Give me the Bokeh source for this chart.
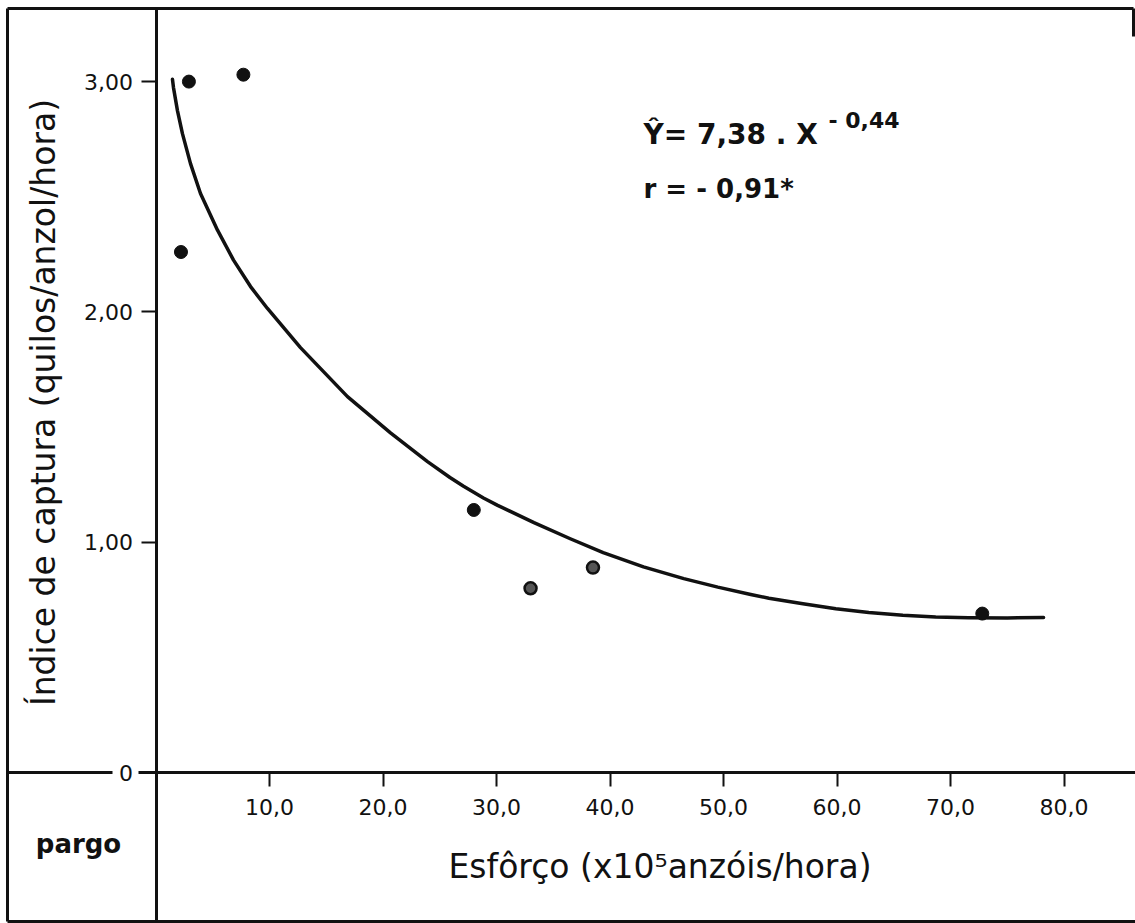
import math
from bokeh.plotting import figure
from bokeh.models import FixedTicker, Range1d
from bokeh.core.properties import value
from bokeh.embed import file_html
from bokeh.resources import INLINE

# ---------------- data ----------------
effort = [2.2, 2.9, 7.7, 28.0, 33.0, 38.5, 72.8]          # x 10^5 anzóis/hora
capture = [2.26, 3.00, 3.03, 1.14, 0.80, 0.89, 0.69]      # quilos/anzol/hora
speckled = [False, False, False, False, True, True, False]

curve_x = [1.45, 1.54, 1.89, 2.33, 3.04, 3.92, 5.42, 6.83, 8.33, 9.82,
           12.73, 16.87, 20.66, 23.92, 25.9, 27.1, 28.85, 30.1, 33.3, 36.5,
           39.4, 42.95, 46.5, 49.5, 52.4, 54.0, 57.0, 59.9, 62.8, 65.8,
           68.7, 71.6, 75.0, 78.2]
curve_y = [3.01, 2.974, 2.874, 2.774, 2.644, 2.514, 2.355, 2.225, 2.110, 2.015,
           1.845, 1.632, 1.475, 1.350, 1.281, 1.243, 1.192, 1.160, 1.085, 1.015,
           0.955, 0.893, 0.842, 0.805, 0.773, 0.757, 0.733, 0.711, 0.695, 0.683,
           0.675, 0.672, 0.671, 0.673]

x_ticks = [10, 20, 30, 40, 50, 60, 70, 80]
x_tick_labels = ["10,0", "20,0", "30,0", "40,0", "50,0", "60,0", "70,0", "80,0"]
y_ticks = [0, 1, 2, 3]
y_tick_labels = ["0", "1,00", "2,00", "3,00"]

species = "pargo"
y_title = "Índice de captura (quilos/anzol/hora)"
x_title = "Esfôrço  (x10⁵anzóis/hora)"
equation = "Ŷ= 7,38 . X"
exponent = "- 0,44"
corr = "r = - 0,91*"

# ---------------- figure ----------------
W, H = 1135, 923
X0, SX = 155.5, 11.35     # pixel of x=0, pixels per unit
Y0, SY = 772.0, 230.3     # pixel of y=0, pixels per unit

def dx(px):
    return (px - X0) / SX

def dy(py):
    return (Y0 - py) / SY

FONT = "DejaVu Sans"
INK = "#111111"

p = figure(width=W, height=H, min_border=0, output_backend="svg",
           toolbar_location=None,
           x_range=Range1d(dx(0), dx(W)), y_range=Range1d(dy(H), dy(0)))
p.outline_line_color = None
p.background_fill_color = "white"
p.border_fill_color = "white"
p.xgrid.visible = False
p.ygrid.visible = False

# axes placed at the origin
xa = p.xaxis[0]
ya = p.yaxis[0]
xa.fixed_location = 0
ya.fixed_location = 0
xa.ticker = FixedTicker(ticks=x_ticks)
ya.ticker = FixedTicker(ticks=y_ticks)
xa.major_label_overrides = dict(zip(x_ticks, x_tick_labels))
ya.major_label_overrides = dict(zip(y_ticks, y_tick_labels))
xa.bounds = (dx(138), dx(W))
ya.bounds = (dy(921), dy(8))
for ax in (xa, ya):
    ax.axis_line_color = INK
    ax.axis_line_width = 3
    ax.major_tick_line_color = INK
    ax.major_tick_line_width = 2
    ax.major_tick_in = 0
    ax.minor_tick_line_color = None
    ax.major_label_text_font = FONT
    ax.major_label_text_color = INK
    ax.major_label_text_font_size = "22px"
xa.major_tick_out = 14
xa.major_label_standoff = 12
ya.major_tick_out = 15
ya.major_label_standoff = 8

# frame / border lines of the scanned figure
p.segment(x0=[dx(7), dx(7), dx(7), dx(1133), dx(7)],
          y0=[dy(8), dy(8), dy(921), dy(8), 0],
          x1=[dx(7), dx(1133), dx(1135), dx(1133), dx(112)],
          y1=[dy(921), dy(8), dy(921), dy(36), 0],
          line_color=INK, line_width=3)

# fitted curve
p.line(curve_x, curve_y, line_color=INK, line_width=3.5,
       line_join="round", line_cap="round")

# observations
sx = [x for x, s in zip(effort, speckled) if not s]
sy = [y for y, s in zip(capture, speckled) if not s]
hx = [x for x, s in zip(effort, speckled) if s]
hy = [y for y, s in zip(capture, speckled) if s]
p.scatter(sx, sy, size=13, fill_color=INK, line_color=INK)
p.scatter(hx, hy, size=12, fill_color="#555555", line_color=INK, line_width=2.5)

# texts
p.text(x=[dx(643)], y=[dy(134)], text=[equation], text_font=value(FONT),
       text_font_size="28px", text_font_style="bold", text_color=INK,
       text_baseline="middle", text_align="left")
p.text(x=[dx(828)], y=[dy(120)], text=[exponent], text_font=value(FONT),
       text_font_size="22px", text_font_style="bold", text_color=INK,
       text_baseline="middle", text_align="left")
p.text(x=[dx(643)], y=[dy(188)], text=[corr], text_font=value(FONT),
       text_font_size="26px", text_font_style="bold", text_color=INK,
       text_baseline="middle", text_align="left")

p.text(x=[dx(43)], y=[dy(402)], text=[y_title], angle=math.pi / 2,
       text_font=value(FONT), text_font_size="33px", text_color=INK,
       text_baseline="middle", text_align="center")
p.text(x=[dx(448)], y=[dy(866)], text=[x_title], text_font=value(FONT),
       text_font_size="33px", text_color=INK,
       text_baseline="middle", text_align="left")
p.text(x=[dx(78)], y=[dy(843)], text=[species], text_font=value(FONT),
       text_font_size="26px", text_font_style="bold", text_color=INK,
       text_baseline="middle", text_align="center")

open("out.html", "w").write(file_html(p, INLINE))
